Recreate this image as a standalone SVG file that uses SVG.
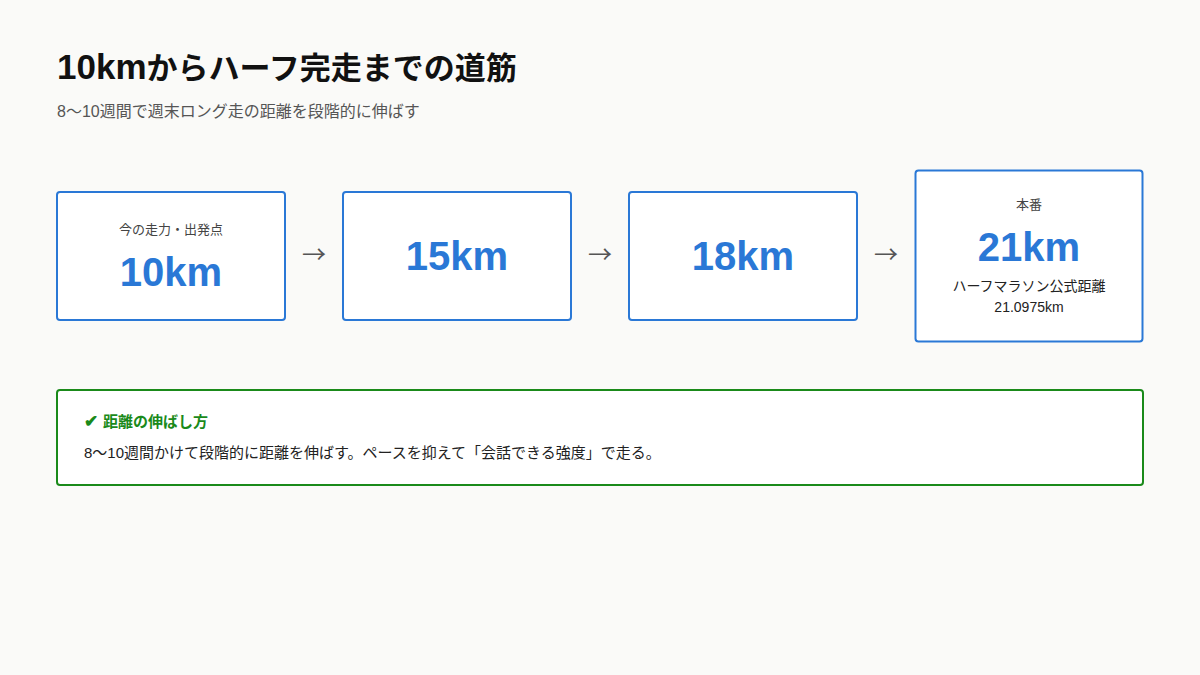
<svg xmlns="http://www.w3.org/2000/svg" width="1200" height="675" viewBox="0 0 1200 675">
<style>
text{font-family:"Liberation Sans","Noto Sans CJK JP",sans-serif}
.box{fill:#ffffff;stroke:#2a78d6;stroke-width:2}
.big{fill:#2a78d6;font-weight:700;font-size:40px;text-anchor:middle}
.small{fill:#444;font-size:13px;text-anchor:middle}
.arrow{fill:#555;font-size:24px;text-anchor:middle;font-family:"Noto Sans CJK JP",sans-serif}
.note{fill:#222;font-size:14px;text-anchor:middle}
</style>
<rect width="1200" height="675" fill="#fafaf8"/>
<text x="57" y="79" font-weight="700" fill="#111"><tspan font-size="35">10km</tspan><tspan font-size="31">からハーフ完走までの道筋</tspan></text>
<text x="57" y="117" font-size="16" fill="#555">8〜10週間で週末ロング走の距離を段階的に伸ばす</text>
<g id="connectors">
<text class="arrow" x="314" y="263">→</text>
<text class="arrow" x="600" y="263">→</text>
<text class="arrow" x="886" y="263">→</text>
</g>
<g id="node1">
<rect class="box" x="57" y="192" width="228" height="128" rx="3"/>
<text class="small" x="171" y="234">今の走力・出発点</text>
<text class="big" x="171" y="286">10km</text>
</g>
<g id="node2">
<rect class="box" x="343" y="192" width="228" height="128" rx="3"/>
<text class="big" x="457" y="270">15km</text>
</g>
<g id="node3">
<rect class="box" x="629" y="192" width="228" height="128" rx="3"/>
<text class="big" x="743" y="270">18km</text>
</g>
<g id="node4">
<rect class="box" x="915.5" y="170.5" width="227" height="171" rx="3" stroke-width="3"/>
<text class="small" x="1029" y="209">本番</text>
<text class="big" x="1029" y="261">21km</text>
<text class="note" x="1029" y="291">ハーフマラソン公式距離</text>
<text class="note" x="1029" y="312">21.0975km</text>
</g>
<g id="tip">
<rect x="57" y="390" width="1086" height="95" rx="3" fill="#ffffff" stroke="#1a8a1a" stroke-width="2"/>
<text x="84" y="427" font-weight="700" fill="#1a8a1a"><tspan font-size="17">✔</tspan><tspan x="103" font-size="15">距離の伸ばし方</tspan></text>
<text x="84" y="458" font-size="15" fill="#222">8〜10週間かけて段階的に距離を伸ばす。ペースを抑えて「会話できる強度」で走る。</text>
</g>
</svg>
